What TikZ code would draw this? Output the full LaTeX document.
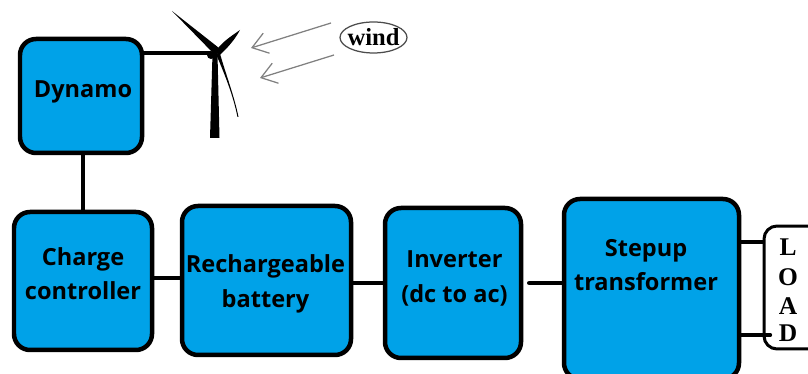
\documentclass[tikz,border=0pt]{standalone}
\usepackage{fontspec}
\setmainfont{Liberation Serif}
\newfontfamily\blockfont{Open Sans}
\usetikzlibrary{arrows.meta,shapes.geometric}
\definecolor{blockblue}{RGB}{0,162,232}
\tikzset{
  blockbox/.style 2 args={draw=black,line width=0.09cm,fill=blockblue,rounded corners=0.32cm,
    minimum width=#1*0.02cm,minimum height=#2*0.02cm,inner sep=0pt},
  blocktext/.style={align=center,inner sep=0pt,font=\blockfont\bfseries\fontsize{13.4}{16.5}\selectfont},
  wire/.style={line width=0.065cm,line cap=round},
  windarrow/.style={draw=gray,line width=0.025cm,-{Straight Barb[length=0.3cm,width=0.42cm]}},
  loadletter/.style={font=\bfseries\fontsize{14.5}{16}\selectfont,inner sep=0pt}
}
\begin{document}
\begin{tikzpicture}[x=0.02cm,y=-0.02cm]
    \useasboundingbox (0,0) rectangle (808,374);
    \clip (0,0) rectangle (808,374);
    % blocks
    \node[blockbox={122}{114}] (dynamo) at (81,96) {};
    \node[blockbox={138}{138}] (charge) at (83,281) {};
    \node[blockbox={169}{149}] (battery) at (266.5,280.5) {};
    \node[blockbox={136}{150}] (inverter) at (453,283) {};
    \node[blockbox={175}{180}] (stepup) at (651.5,289) {};
    \node[draw=black,line width=0.06cm,rounded corners=0.26cm,minimum width=1.32cm,minimum height=2.46cm] (load) at (797,287.5) {};
    % block texts
    \node[blocktext] (dynamotext) at (83,92) {Dynamo};
    \node[blocktext] (chargetext) at (83,274) {Charge\\[3pt]controller};
    \node[blocktext] (batterytext) at (265.5,284) {Rechargeable\\[3pt]battery};
    \node[blocktext] (invertertext) at (454.5,278.5) {Inverter\\[3pt](dc to ac)};
    \node[blocktext] (steptext) at (646,265) {Stepup\\[3pt]transformer};
    \foreach \letter/\y in {L/247,O/277,A/306,D/333}{
      \node[loadletter] (load\letter) at (788,\y) {\letter};
    }
    % connectors
    \draw[wire] (charge.north) -- (charge.north |- dynamo.south);
    \draw[wire] ([yshift=0.06cm]charge.east) -- ([yshift=0.06cm]charge.east -| battery.west);
    \draw[wire] (inverter.west) -- (inverter.west -| battery.east);
    \draw[wire,line width=0.09cm] ([xshift=0.12cm]inverter.east) -- (inverter.east -| stepup.west);
    \draw[wire] ([yshift=0.94cm]stepup.east) -- ([yshift=0.94cm]stepup.east -| load.west);
    \draw[wire] ([yshift=-0.92cm]stepup.east) -- ([xshift=0.16cm,yshift=-0.92cm]stepup.east -| load.west);
    % wind turbine
    \coordinate (hub) at (218,52);
    \draw[line width=0.07cm] (dynamo.east |- 0,53) -- (211,53);
    \fill (211,55) circle (4);
    \fill (212.5,54) -- (217.5,54) -- (219.5,138) -- (210,138) -- cycle;
    \fill (172,11) -- (219,48) -- (216,56) -- cycle;
    \fill (215,52) .. controls (222,42) and (230,37) .. (240,30) .. controls (234,41) and (228,47) .. (220,55) -- cycle;
    \fill (216,54) .. controls (225,75) and (233,95) .. (237.5,117) -- (238.5,117) .. controls (234,95) and (226,75) .. (219.5,52) -- cycle;
    % wind
    \node[draw=black!70,line width=0.025cm,ellipse,minimum width=1.34cm,minimum height=0.62cm,inner ysep=0pt,inner xsep=-0.15cm,font=\bfseries\fontsize{14}{16}\selectfont] (wind) at (373.5,37.5) {wind};
    \coordinate (gustA) at (331,23);
    \coordinate (tipA) at (251,48);
    \coordinate (gustB) at (334,55);
    \coordinate (tipB) at (260,78);
    \draw[windarrow] (gustA) -- (tipA);
    \draw[windarrow] (gustB) -- (tipB);
  \end{tikzpicture}
\end{document}
